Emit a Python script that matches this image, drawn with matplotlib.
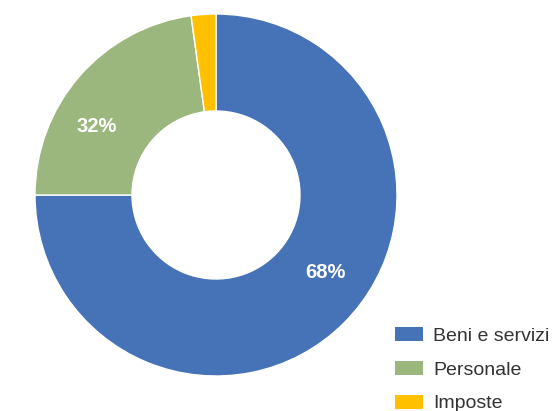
import matplotlib
matplotlib.use("Agg")
import matplotlib.pyplot as plt
from matplotlib.patches import Patch

categories = ["Beni e servizi", "Personale", "Imposte"]
values = [75.0, 22.8, 2.2]
shown_labels = ["68%", "32%", ""]
colors = ["#4672B8", "#9BB77E", "#FFC000"]

plt.rcParams["font.family"] = ["Liberation Sans", "DejaVu Sans"]

W, H = 554, 411
fig = plt.figure(figsize=(W / 100, H / 100), dpi=100)
ax = fig.add_axes([0, 0, 1, 1])

cx, cy = 216, H - 195
r_out, r_in = 181, 84
wedges, _ = ax.pie(
    values,
    colors=colors,
    startangle=90,
    counterclock=False,
    center=(cx, cy),
    radius=r_out,
    wedgeprops={"width": r_out - r_in, "edgecolor": "white", "linewidth": 1},
    frame=True,
)
ax.set_xlim(0, W)
ax.set_ylim(0, H)
ax.set_aspect("equal")
ax.axis("off")

# percentage labels (positions as in the original)
label_pos = [(325, H - 272), (97, H - 126)]
for txt, (lx, ly) in zip(shown_labels, label_pos):
    ax.text(lx, ly, txt, color="white", fontsize=14.5, fontweight="bold",
            ha="center", va="center")

handles = [Patch(facecolor=c, edgecolor="none") for c in colors]
fs = 14
fig.legend(handles, categories, loc="upper left", bbox_to_anchor=(395 / W, 1 - 327 / H),
           frameon=False, fontsize=fs, handlelength=1.45, handleheight=0.72,
           handletextpad=0.5, labelspacing=0.83, borderpad=0, borderaxespad=0,
           labelcolor="#333333")

fig.savefig("out.png", dpi=100)
